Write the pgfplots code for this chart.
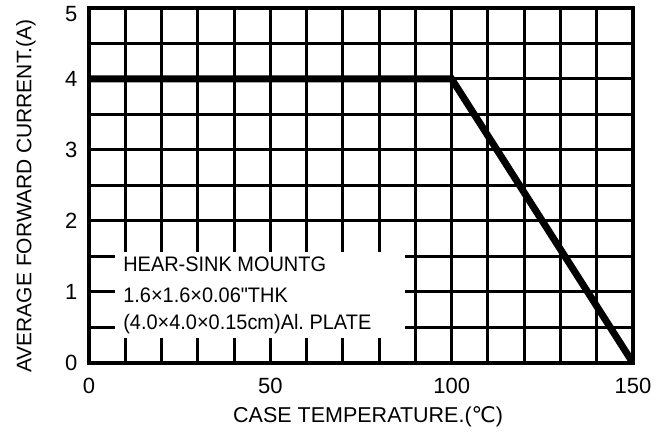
\documentclass[border=0pt]{standalone}
\usepackage{pgfplots}
\pgfplotsset{compat=1.18}
\usepackage{fontspec}
\setmainfont{Liberation Sans}
\newfontfamily\dejavu{DejaVu Sans}
\newfontfamily\boxfont[FakeStretch=0.95]{Liberation Sans}
\frenchspacing
\begin{document}
\begin{tikzpicture}
\begin{axis}[
  at={(89bp,78bp)}, anchor=south west,
  scale only axis, width=544bp, height=355bp,
  xmin=0, xmax=150, ymin=0, ymax=5,
  xtick={0,50,100,150}, ytick={0,1,2,3,4,5},
  yticklabels={0,1,2,3,4,\raisebox{-6bp}{5}},
  minor xtick={10,20,30,40,60,70,80,90,110,120,130,140},
  minor ytick={0.5,1.5,2.5,3.5,4.5},
  grid=both,
  major grid style={line width=3bp, black},
  minor grid style={line width=3bp, black},
  axis line style={line width=3.5bp, black},
  major tick length=0pt, minor tick length=0pt,
  tick style={draw=none},
  /pgf/number format/assume math mode=true,
  ticklabel style={font=\fontsize{22bp}{26bp}\selectfont},
  xticklabel style={yshift=-12bp},
  yticklabel style={anchor=base east, xshift=-8bp, yshift=-8bp},
  xlabel={CASE TEMPERATURE.({\dejavu ℃})},
  ylabel={AVERAGE FORWARD CURRENT.(A)},
  every axis x label/.style={at={(axis description cs:0.513,0)},yshift=-54bp,anchor=center,font=\fontsize{21.5bp}{25bp}\selectfont},
  every axis y label/.style={at={(axis description cs:0,0.470)},xshift=-63bp,rotate=90,anchor=center,font=\fontsize{21bp}{25bp}\selectfont},
]
\addplot[black, line width=7bp, line join=miter] coordinates {(0,4) (100,4) (150,0)};
\fill[white] (axis cs:7.2,0.35) rectangle (axis cs:87.1,1.56);
\node[anchor=base west, inner sep=0pt, font=\boxfont\fontsize{21bp}{25bp}\selectfont] at (axis cs:9.4,1.282) {HEAR-SINK MOUNTG};
\node[anchor=base west, inner sep=0pt, font=\boxfont\fontsize{21bp}{25bp}\selectfont] at (axis cs:9.4,0.859) {1.6×1.6×0.06"THK};
\node[anchor=base west, inner sep=0pt, font=\boxfont\fontsize{21bp}{25bp}\selectfont] at (axis cs:9.4,0.465) {(4.0×4.0×0.15cm)Al. PLATE};
\end{axis}
\pgfresetboundingbox
\path[use as bounding box] (0,0) rectangle (668bp,441bp);
\end{tikzpicture}
\end{document}
